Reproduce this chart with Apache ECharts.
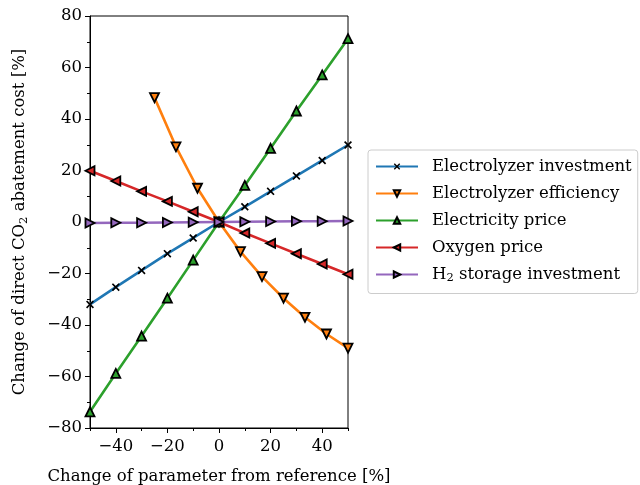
<!DOCTYPE html>
<html><head><meta charset="utf-8">
<script src="https://cdn.jsdelivr.net/npm/echarts@6/dist/echarts.min.js"></script>
<style>html,body{margin:0;padding:0;background:#fff}#c{width:640px;height:485px}</style>
</head><body><div id="c"></div>
<script>
const xStep10 = [-50,-40,-30,-20,-10,0,10,20,30,40,50];
const xEff = [-25,-16.67,-8.33,0,8.33,16.67,25,33.33,41.67,50];
const invest = [-32,-25.3,-18.8,-12.3,-6.2,0,5.9,11.9,17.9,23.9,29.9];
const efficiency = [48.3,29.2,13.1,0,-11.5,-21.2,-29.6,-37,-43.5,-49];
const elecPrice = [-73.7,-58.8,-44.3,-29.6,-14.8,0,14.2,28.6,43.1,57.1,71.2];
const oxygen = [19.9,15.9,11.9,8.0,4.0,0,-4.3,-8.3,-12.3,-16.3,-20.3];
const storage = [-0.4,-0.3,-0.3,-0.2,-0.1,0,0.1,0.2,0.3,0.3,0.4];
const names = ['Electrolyzer investment','Electrolyzer efficiency','Electricity price','Oxygen price','H2 storage investment'];
const colors = ['#1f77b4','#ff7f0e','#2ca02c','#d62728','#9467bd'];
const xMajor = [-40,-20,0,20,40];

const FONT = 'DejaVu Serif';
const FS = 16.5;
const minus = v => String(v).replace('-', '\u2212');
const zip = (xs, ys) => xs.map((x,i)=>[x, ys[i]]);
const xMark = 'path://M1.5,0L5,3.5L8.5,0L10,1.5L6.5,5L10,8.5L8.5,10L5,6.5L1.5,10L0,8.5L3.5,5L0,1.5Z';

function mk(i, data, symbol, rot, size){
  return {
    name: names[i], type:'line', data: data, xAxisIndex:0, yAxisIndex:0,
    symbol: symbol, symbolRotate: rot, symbolSize: size, showSymbol:true,
    lineStyle:{color:colors[i], width:2.6},
    itemStyle: i===0 ? {color:'#000', borderWidth:0} : {color:colors[i], borderColor:'#000', borderWidth:1.8},
    emphasis:{disabled:true}, animation:false, z: 2+i
  };
}

const chart = echarts.init(document.getElementById('c'));
chart.setOption({
  animation:false,
  grid:{left:90, right:292, top:16, bottom:57, outerBoundsMode:'none', containLabel:false, show:true, borderColor:'#000', borderWidth:1, backgroundColor:'transparent'},
  xAxis:[{
    type:'value', min:-50, max:50, position:'bottom',
    axisLine:{show:true, onZero:false, lineStyle:{color:'#000', width:1}},
    axisTick:{show:true, length:5, inside:false, lineStyle:{color:'#000'}, customValues:xMajor},
    axisLabel:{customValues:xMajor, formatter:minus, color:'#000', fontFamily:FONT, fontSize:FS, margin:10},
    splitLine:{show:false},
    name:'Change of parameter from reference [%]', nameLocation:'middle', nameGap:40,
    nameTextStyle:{color:'#000', fontFamily:FONT, fontSize:FS}
  },{
    type:'value', min:-50, max:50, interval:10, position:'bottom',
    axisLine:{show:false, onZero:false}, axisLabel:{show:false}, splitLine:{show:false},
    axisTick:{show:true, length:3, lineStyle:{color:'#000'}}
  }],
  yAxis:{
    type:'value', min:-80, max:80, interval:20,
    axisLine:{show:true, onZero:false, lineStyle:{color:'#000', width:1}},
    axisTick:{show:true, length:5, lineStyle:{color:'#000'}},
    minorTick:{show:true, splitNumber:2, length:3, lineStyle:{color:'#000'}},
    axisLabel:{formatter:minus, color:'#000', fontFamily:FONT, fontSize:FS, margin:8},
    splitLine:{show:false}, minorSplitLine:{show:false},
    name:'{a|Change of direct CO}{s|2}{a| abatement cost [%]}', nameLocation:'middle', nameGap:60, nameRotate:90,
    nameTextStyle:{color:'#000', rich:{a:{fontFamily:FONT, fontSize:FS, color:'#000'}, s:{fontFamily:FONT, fontSize:11.5, color:'#000', verticalAlign:'bottom', padding:[8,0,0,0]}}}
  },
  legend:{
    orient:'vertical', left:368, top:150,
    data: names,
    itemWidth:42, itemHeight:8, itemGap:10,
    padding:[8,6,9,7],
    borderColor:'#ccc', borderWidth:1, borderRadius:3, backgroundColor:'#fff',
    formatter: n => n==='H2 storage investment' ? '{a|H}{s|2}{a| storage investment}' : '{a|'+n+'}',
    textStyle:{color:'#000', fontFamily:FONT, fontSize:FS, padding:[0,0,0,9], rich:{a:{fontFamily:FONT, fontSize:FS, color:'#000'}, s:{fontFamily:FONT, fontSize:11.5, color:'#000', verticalAlign:'top', padding:[8,0,0,0]}}}
  },
  series:[
    mk(0, zip(xStep10, invest), xMark, 0, 8),
    mk(1, zip(xEff, efficiency), 'triangle', 180, 9),
    mk(2, zip(xStep10, elecPrice), 'triangle', 0, 9),
    mk(3, zip(xStep10, oxygen), 'triangle', 90, 9),
    mk(4, zip(xStep10, storage), 'triangle', -90, 9)
  ]
});
</script></body></html>
